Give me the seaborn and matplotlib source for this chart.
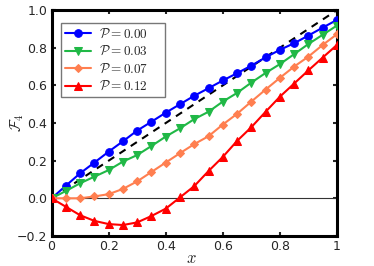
import numpy as np
import pandas as pd
import seaborn as sns
import matplotlib
matplotlib.use("Agg")
import matplotlib.pyplot as plt

# x grid (21 points)
x = [0.00, 0.05, 0.10, 0.15, 0.20, 0.25, 0.30, 0.35, 0.40, 0.45, 0.50,
     0.55, 0.60, 0.65, 0.70, 0.75, 0.80, 0.85, 0.90, 0.95, 1.00]

f_p000 = [0.000, 0.067, 0.133, 0.190, 0.248, 0.303, 0.360, 0.407, 0.455, 0.500, 0.545,
          0.585, 0.626, 0.665, 0.705, 0.749, 0.789, 0.824, 0.865, 0.907, 0.948]
f_p003 = [0.000, 0.039, 0.080, 0.115, 0.150, 0.195, 0.230, 0.278, 0.328, 0.372, 0.421,
          0.460, 0.514, 0.560, 0.615, 0.666, 0.713, 0.766, 0.820, 0.869, 0.918]
f_p007 = [0.000, 0.000, 0.000, 0.010, 0.022, 0.050, 0.090, 0.140, 0.190, 0.240, 0.288,
          0.330, 0.392, 0.449, 0.514, 0.578, 0.640, 0.700, 0.753, 0.815, 0.872]
f_p012 = [0.000, -0.045, -0.090, -0.120, -0.137, -0.142, -0.128, -0.094, -0.055, 0.005, 0.065,
          0.145, 0.220, 0.305, 0.378, 0.460, 0.540, 0.610, 0.680, 0.748, 0.815]

labels = [r"$\mathcal{P} = 0.00$", r"$\mathcal{P} = 0.03$",
          r"$\mathcal{P} = 0.07$", r"$\mathcal{P} = 0.12$"]
colors = ["#0000ff", "#20b846", "#ff7f50", "#ff0000"]
markers = ["o", "v", "D", "^"]
msizes = [5.5, 6, 4.5, 6]

sns.set_style("white")
plt.rcParams["mathtext.fontset"] = "cm"
plt.rcParams["font.family"] = ["DejaVu Sans"]

fig = plt.figure(figsize=(3.74, 2.66), dpi=100)
ax = fig.add_axes([0.138, 0.113, 0.763, 0.849])

# reference lines
ax.axhline(0, color="#333333", lw=0.8, zorder=1)
sns.lineplot(x=[0, 1], y=[0, 1], ax=ax, color="black", lw=1.5,
             linestyle=(0, (3.5, 3)), zorder=2)

for ys, lab, c, m, ms in zip([f_p000, f_p003, f_p007, f_p012], labels, colors, markers, msizes):
    sns.lineplot(x=x, y=ys, ax=ax, color=c, marker=m, markersize=ms,
                 markeredgecolor=c, lw=1.5, label=lab, zorder=3)

ax.set_xlim(0, 1)
ax.set_ylim(-0.2, 1.0)
ax.set_xticks([0, 0.2, 0.4, 0.6, 0.8, 1])
ax.set_xticklabels(["0", "0.2", "0.4", "0.6", "0.8", "1"])
ax.set_yticks([-0.2, 0, 0.2, 0.4, 0.6, 0.8, 1.0])
ax.set_yticklabels(["\u22120.2", "0.0", "0.2", "0.4", "0.6", "0.8", "1.0"])
ax.tick_params(direction="in", length=3, width=1.5, top=True, right=True,
               labelsize=9, pad=3, bottom=True, left=True)
for s in ax.spines.values():
    s.set_linewidth(2.2)
    s.set_color("black")

ax.set_xlabel(r"$x$", fontsize=12)
ax.xaxis.set_label_coords(0.49, -0.06)
ax.set_ylabel(r"$\mathcal{F}_4$", fontsize=11)
ax.yaxis.set_label_coords(-0.09, 0.5)

leg = ax.legend(loc="upper left", bbox_to_anchor=(0.033, 0.941), borderaxespad=0,
                fontsize=9.5, frameon=True, fancybox=False, handlelength=2.0,
                labelspacing=0.33, borderpad=0.3, handletextpad=0.6)
leg.get_frame().set_edgecolor("#555555")
leg.get_frame().set_linewidth(1.0)
# reference legend box is a bit wider on the right
for t in leg.get_texts():
    t.set_text(t.get_text() + "    ")

fig.savefig("out.png", dpi=100)
